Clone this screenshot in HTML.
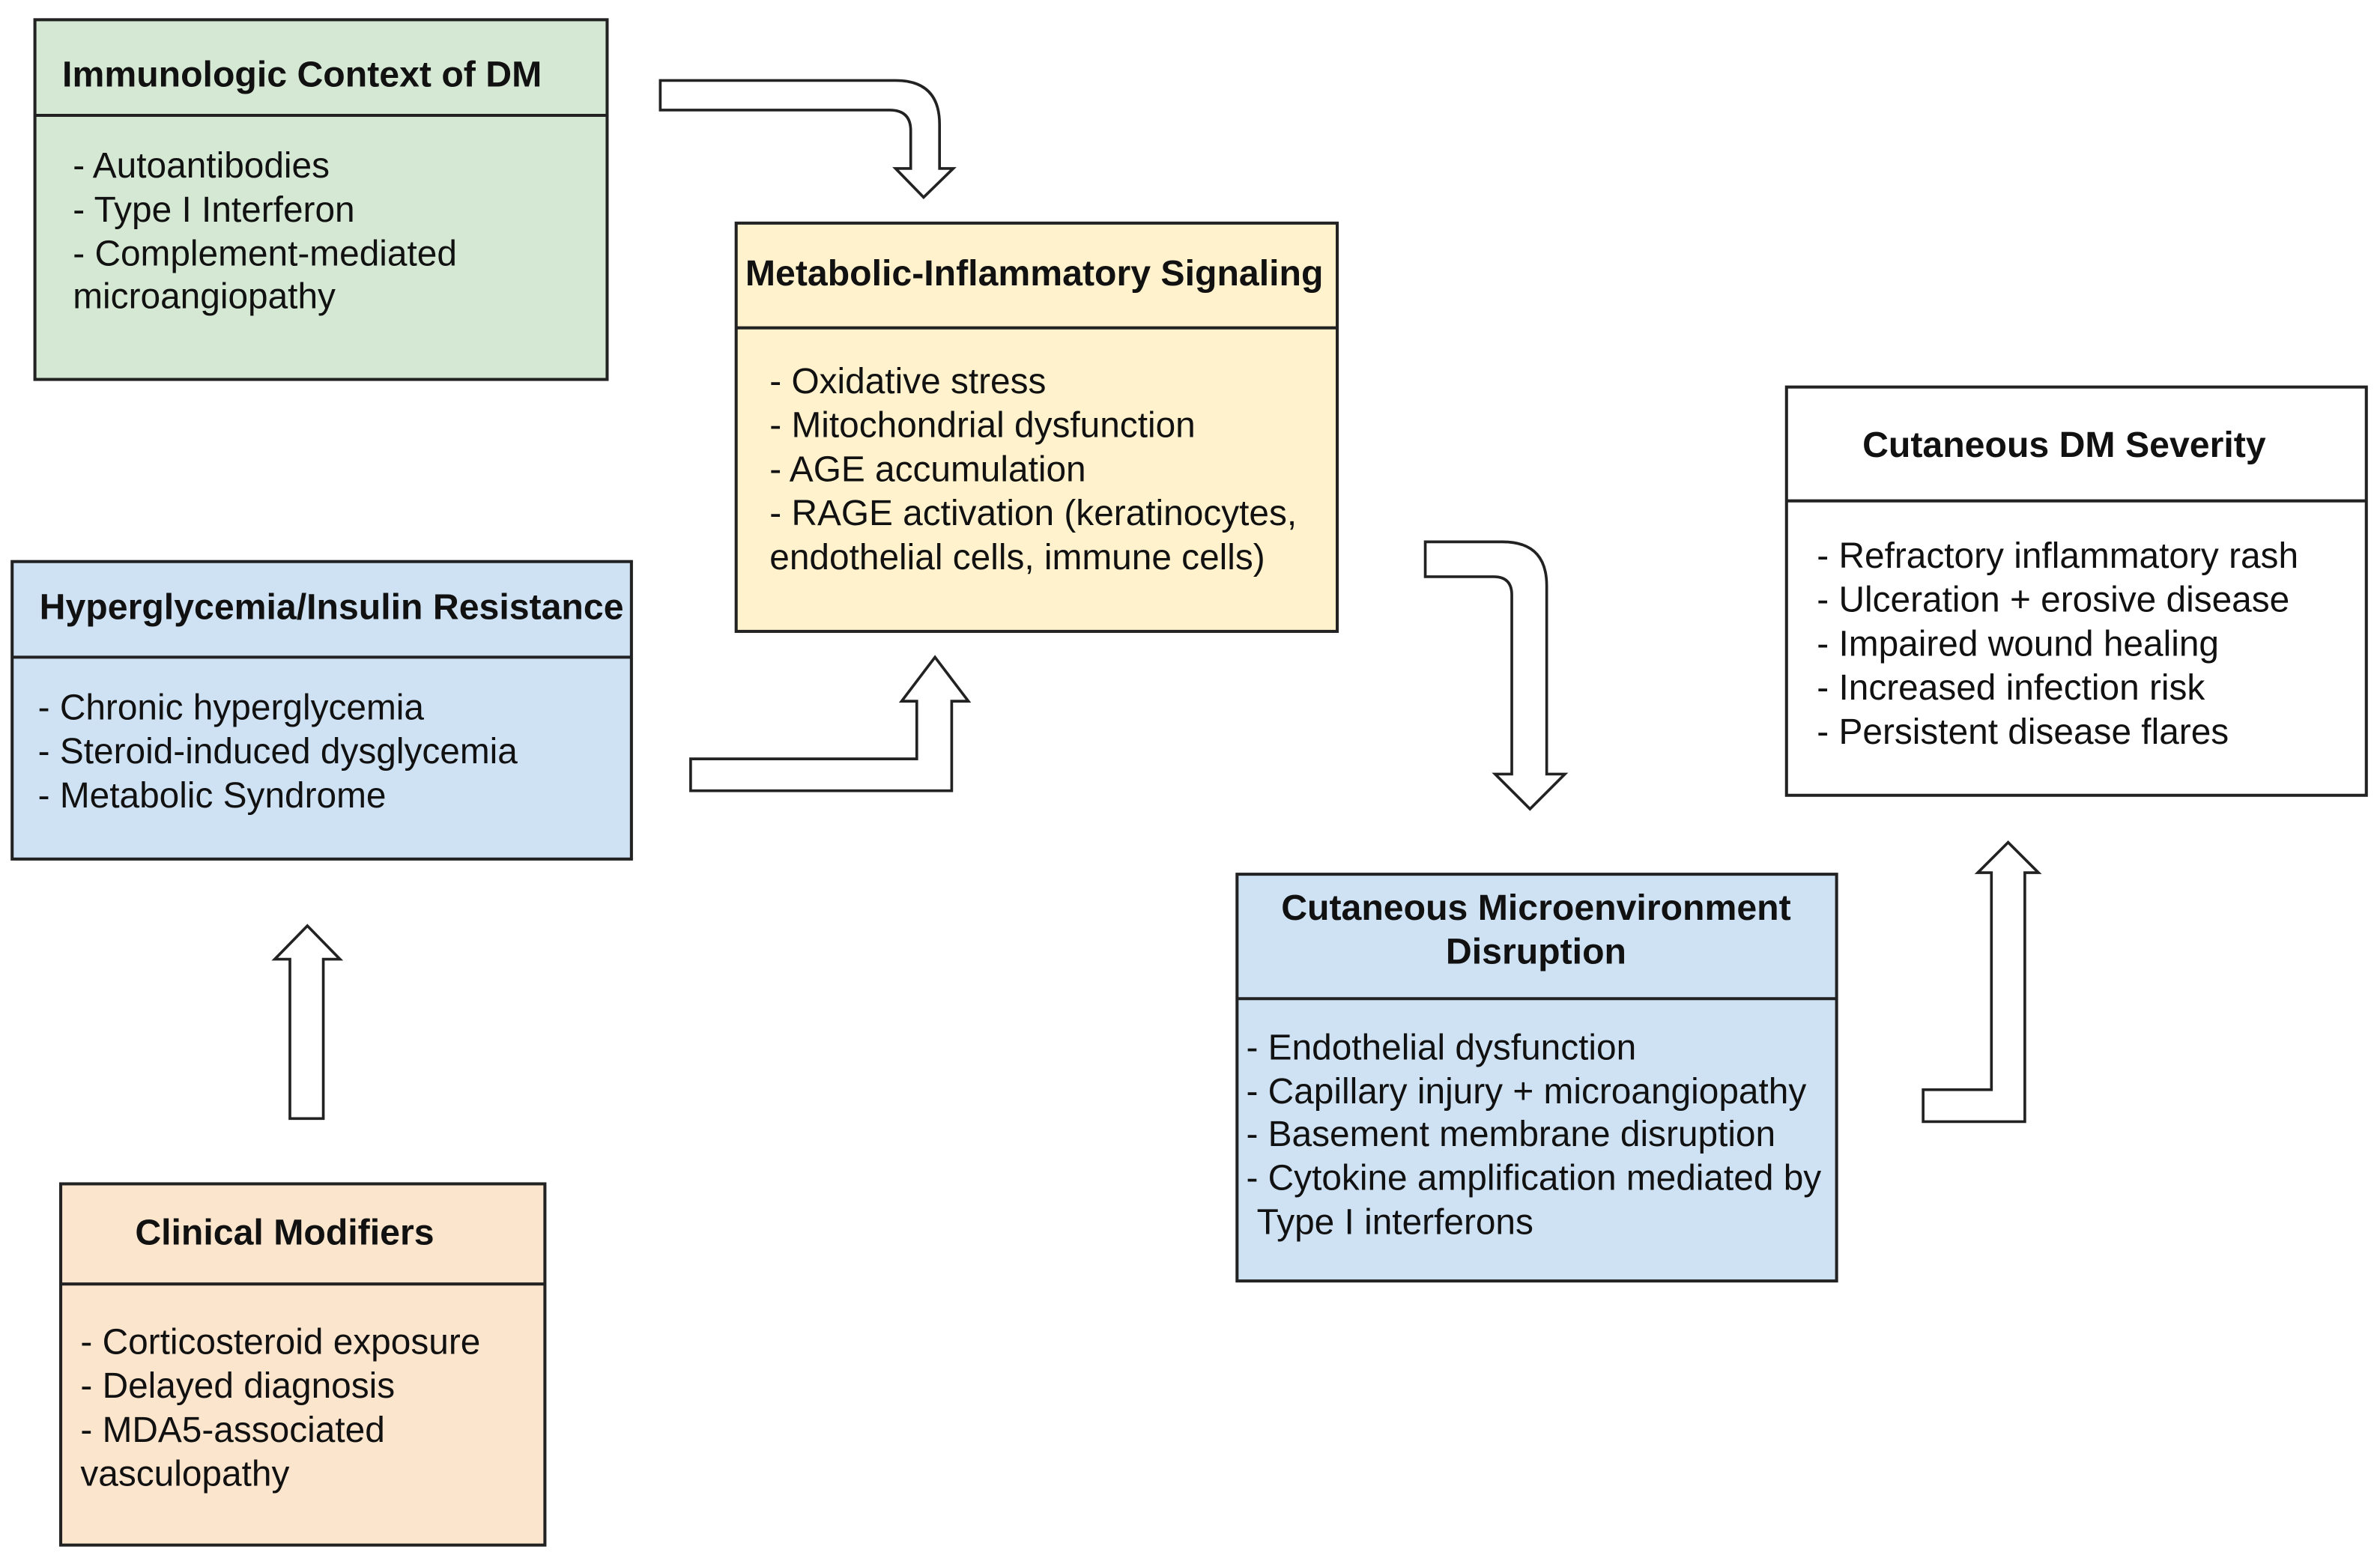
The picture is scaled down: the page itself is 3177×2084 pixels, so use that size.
<!DOCTYPE html>
<html><head><meta charset="utf-8"><style>
html,body{margin:0;padding:0;background:#fff;}
svg{display:block;}
text{font-family:"Liberation Sans",Arial,sans-serif;fill:#111;}
.h{font-weight:bold;font-size:23.8px;}
.b{font-size:23.6px;}
</style></head><body>
<svg width="3177" height="2084" viewBox="0 0 1568 1028.5" preserveAspectRatio="none">
<g stroke="#222" stroke-width="2">
<rect x="23" y="13" width="377" height="237" fill="#d5e8d4"/><line x1="23" y1="76" x2="400" y2="76"/>
<rect x="485" y="147" width="396" height="269" fill="#fff2cc"/><line x1="485" y1="216" x2="881" y2="216"/>
<rect x="8" y="370" width="408" height="196" fill="#cfe2f3"/><line x1="8" y1="433" x2="416" y2="433"/>
<rect x="40" y="780" width="319" height="238" fill="#fce5cd"/><line x1="40" y1="846" x2="359" y2="846"/>
<rect x="1177" y="255" width="382" height="269" fill="#fff"/><line x1="1177" y1="330" x2="1559" y2="330"/>
<rect x="815" y="576" width="395" height="268" fill="#cfe2f3"/><line x1="815" y1="658" x2="1210" y2="658"/>
</g>
<g fill="#fff" stroke="#222" stroke-width="1.8" stroke-linejoin="miter">
<path d="M435 53 H590 Q619 53 619 82 V111 H628 L608.5 130 L590 111 H600 V86 Q600 72.5 586 72.5 H435 Z"/>
<path d="M939 357 H990 Q1019 357 1019 386 V510 H1031 L1008 533 L985 510 H996 V392 Q996 380 984 380 H939 Z"/>
<path d="M455 500 H604 V462 H594 L616 433 L638 462 H627 V521 H455 Z"/>
<path d="M191 737 V632 H181 L202.5 610 L224 632 H213 V737 Z"/>
<path d="M1267 718 H1312 V575 H1303 L1323 555 L1343 575 H1334 V739 H1267 Z"/>
</g>
<text class="h" x="41" y="57">Immunologic Context of DM</text>
<text class="b" x="48" y="117">- Autoantibodies</text>
<text class="b" x="48" y="146">- Type I Interferon</text>
<text class="b" x="48" y="175">- Complement-mediated</text>
<text class="b" x="48" y="203">microangiopathy</text>
<text class="h" x="491" y="188">Metabolic-Inflammatory Signaling</text>
<text class="b" x="507" y="259">- Oxidative stress</text>
<text class="b" x="507" y="288">- Mitochondrial dysfunction</text>
<text class="b" x="507" y="317">- AGE accumulation</text>
<text class="b" x="507" y="346">- RAGE activation (keratinocytes,</text>
<text class="b" x="507" y="375">endothelial cells, immune cells)</text>
<text class="h" x="26" y="408">Hyperglycemia/Insulin Resistance</text>
<text class="b" x="25" y="474">- Chronic hyperglycemia</text>
<text class="b" x="25" y="503">- Steroid-induced dysglycemia</text>
<text class="b" x="25" y="532">- Metabolic Syndrome</text>
<text class="h" x="89" y="820">Clinical Modifiers</text>
<text class="b" x="53" y="892">- Corticosteroid exposure</text>
<text class="b" x="53" y="921">- Delayed diagnosis</text>
<text class="b" x="53" y="950">- MDA5-associated</text>
<text class="b" x="53" y="979">vasculopathy</text>
<text class="h" x="1227" y="301">Cutaneous DM Severity</text>
<text class="b" x="1197" y="374">- Refractory inflammatory rash</text>
<text class="b" x="1197" y="403">- Ulceration + erosive disease</text>
<text class="b" x="1197" y="432">- Impaired wound healing</text>
<text class="b" x="1197" y="461">- Increased infection risk</text>
<text class="b" x="1197" y="490">- Persistent disease flares</text>
<text class="h" x="1012" y="606" text-anchor="middle">Cutaneous Microenvironment</text>
<text class="h" x="1012" y="635" text-anchor="middle">Disruption</text>
<text class="b" x="821" y="698">- Endothelial dysfunction</text>
<text class="b" x="821" y="727">- Capillary injury + microangiopathy</text>
<text class="b" x="821" y="755">- Basement membrane disruption</text>
<text class="b" x="821" y="784">- Cytokine amplification mediated by</text>
<text class="b" x="828" y="813">Type I interferons</text>
</svg>
</body></html>
